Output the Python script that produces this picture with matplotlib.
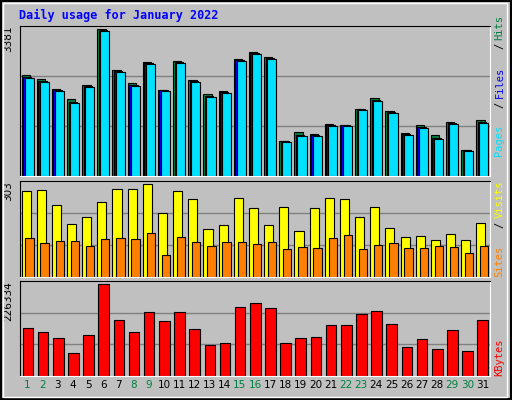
import matplotlib
matplotlib.use("Agg")
import matplotlib.pyplot as plt
from matplotlib.patches import Rectangle

days = list(range(1, 32))
weekend = [1, 2, 8, 9, 15, 16, 22, 23, 29, 30]
hits = [2326, 2234, 2004, 1775, 2096, 3381, 2440, 2142, 2624, 1981, 2647, 2211, 1889, 1958, 2693, 2853,
        2739, 811, 1017, 971, 1201, 1178, 1545, 1798, 1499, 994, 1178, 949, 1247, 604, 1293]
files = [2257, 2173, 1966, 1683, 2050, 3335, 2394, 2073, 2578, 1958, 2601, 2165, 1821, 1913, 2647, 2808,
         2693, 788, 926, 926, 1155, 1155, 1522, 1729, 1454, 949, 1109, 857, 1201, 581, 1224]
pages = [2285, 2195, 1985, 1700, 2070, 3350, 2415, 2100, 2600, 1970, 2620, 2185, 1845, 1930, 2665, 2830,
         2715, 800, 940, 945, 1175, 1170, 1535, 1750, 1470, 965, 1125, 870, 1220, 590, 1245]
visits = [280, 283, 234, 174, 197, 244, 287, 287, 303, 207, 280, 253, 158, 168, 256, 224,
          171, 227, 151, 224, 256, 253, 194, 227, 161, 131, 134, 121, 141, 121, 177]
sites = [128, 111, 118, 118, 101, 125, 128, 125, 144, 72, 131, 115, 101, 115, 115, 108,
         115, 91, 98, 95, 128, 138, 91, 105, 111, 95, 95, 101, 98, 78, 101]
kbytes = [117300, 107400, 92500, 57800, 99950, 226334, 137100, 107400, 156900, 134600, 156900, 114800,
          75200, 80100, 169300, 179200, 166900, 80100, 92500, 95000, 124700, 124700, 152000, 159400,
          127200, 70200, 90000, 65300, 112300, 60300, 137100]

BG = "#C0C0C0"
fig = plt.figure(figsize=(5.12, 4.0), dpi=100, facecolor=BG)
# outer 3D border
fig.patches.append(Rectangle((0.002, 0.002), 0.996, 0.996, transform=fig.transFigure, fill=False,
                             edgecolor="black", lw=1.5))
fig.patches.append(Rectangle((0.006, 0.008), 0.985, 0.985, transform=fig.transFigure, fill=False,
                             edgecolor="white", lw=1))
fig.text(0.037, 0.962, "Daily usage for January 2022", color="#0000FF", fontsize=8.5,
         fontweight="bold", family="DejaVu Sans Mono", va="center")

L, W = 20 / 512, 470 / 512
panels = [(1 - 176 / 400, 150 / 400, max(hits) * 150 / 147),
          (1 - 277 / 400, 96 / 400, max(visits) * 96 / 93),
          (1 - 376 / 400, 95 / 400, max(kbytes) * 95 / 92)]
axes = []
for b, h, top in panels:
    ax = fig.add_axes([L, b, W, h], facecolor=BG)
    ax.set_xlim(0.5, 31.5)
    ax.set_ylim(0, top)
    for f in (1 / 3, 2 / 3):
        ax.axhline(top * f, color="#808080", lw=1, zorder=0)
    ax.set_xticks([]); ax.set_yticks([])
    for s in ax.spines.values():
        s.set_color("black")
    ax.spines["right"].set_color("white"); ax.spines["bottom"].set_color("white")
    axes.append(ax)

a1, a2, a3 = axes
kw = dict(edgecolor="black", linewidth=0.8, align="edge")
a1.bar([d - 0.4 for d in days], hits, width=0.55, color="#008040", **kw)
a1.bar([d - 0.3 for d in days], pages, width=0.55, color="#0000FF", **kw)
a1.bar([d - 0.2 for d in days], files, width=0.6, color="#00E0FF", **kw)
a2.bar([d - 0.4 for d in days], visits, width=0.6, color="#FFFF00", **kw)
a2.bar([d - 0.15 for d in days], sites, width=0.55, color="#FF8000", **kw)
a3.bar([d - 0.33 for d in days], kbytes, width=0.7, color="#FF0000", **kw)

for ax, lab in zip(axes, [str(max(hits)), str(max(visits)), str(max(kbytes))]):
    ax.text(-0.025, 1.0, lab, transform=ax.transAxes, rotation=90, ha="center", va="top",
            fontsize=7.5, color="black")

for d in days:
    a3.text(d, -0.1, str(d), transform=a3.get_xaxis_transform(), ha="center", va="center",
            fontsize=7.5, color="#008040" if d in weekend else "black")

def side(ax, parts, y0):
    y = y0
    for txt, col in parts:
        t = ax.text(1.02, y, txt, transform=ax.transAxes, rotation=90, ha="center", va="bottom",
                    fontsize=7.5, color=col, family="DejaVu Sans Mono")
        y += len(txt) * 0.065 * (150 / (ax.get_position().height * 400))

side(a1, [("Pages", "#00E0FF"), ("/", "black"), ("Files", "#0000FF"), ("/", "black"), ("Hits", "#008040")], 0.13)
side(a2, [("Sites", "#FF8000"), ("/", "black"), ("Visits", "#FFFF00")], 0.0)
side(a3, [("KBytes", "#FF0000")], 0.0)

fig.savefig("out.png", dpi=100, facecolor=BG)
